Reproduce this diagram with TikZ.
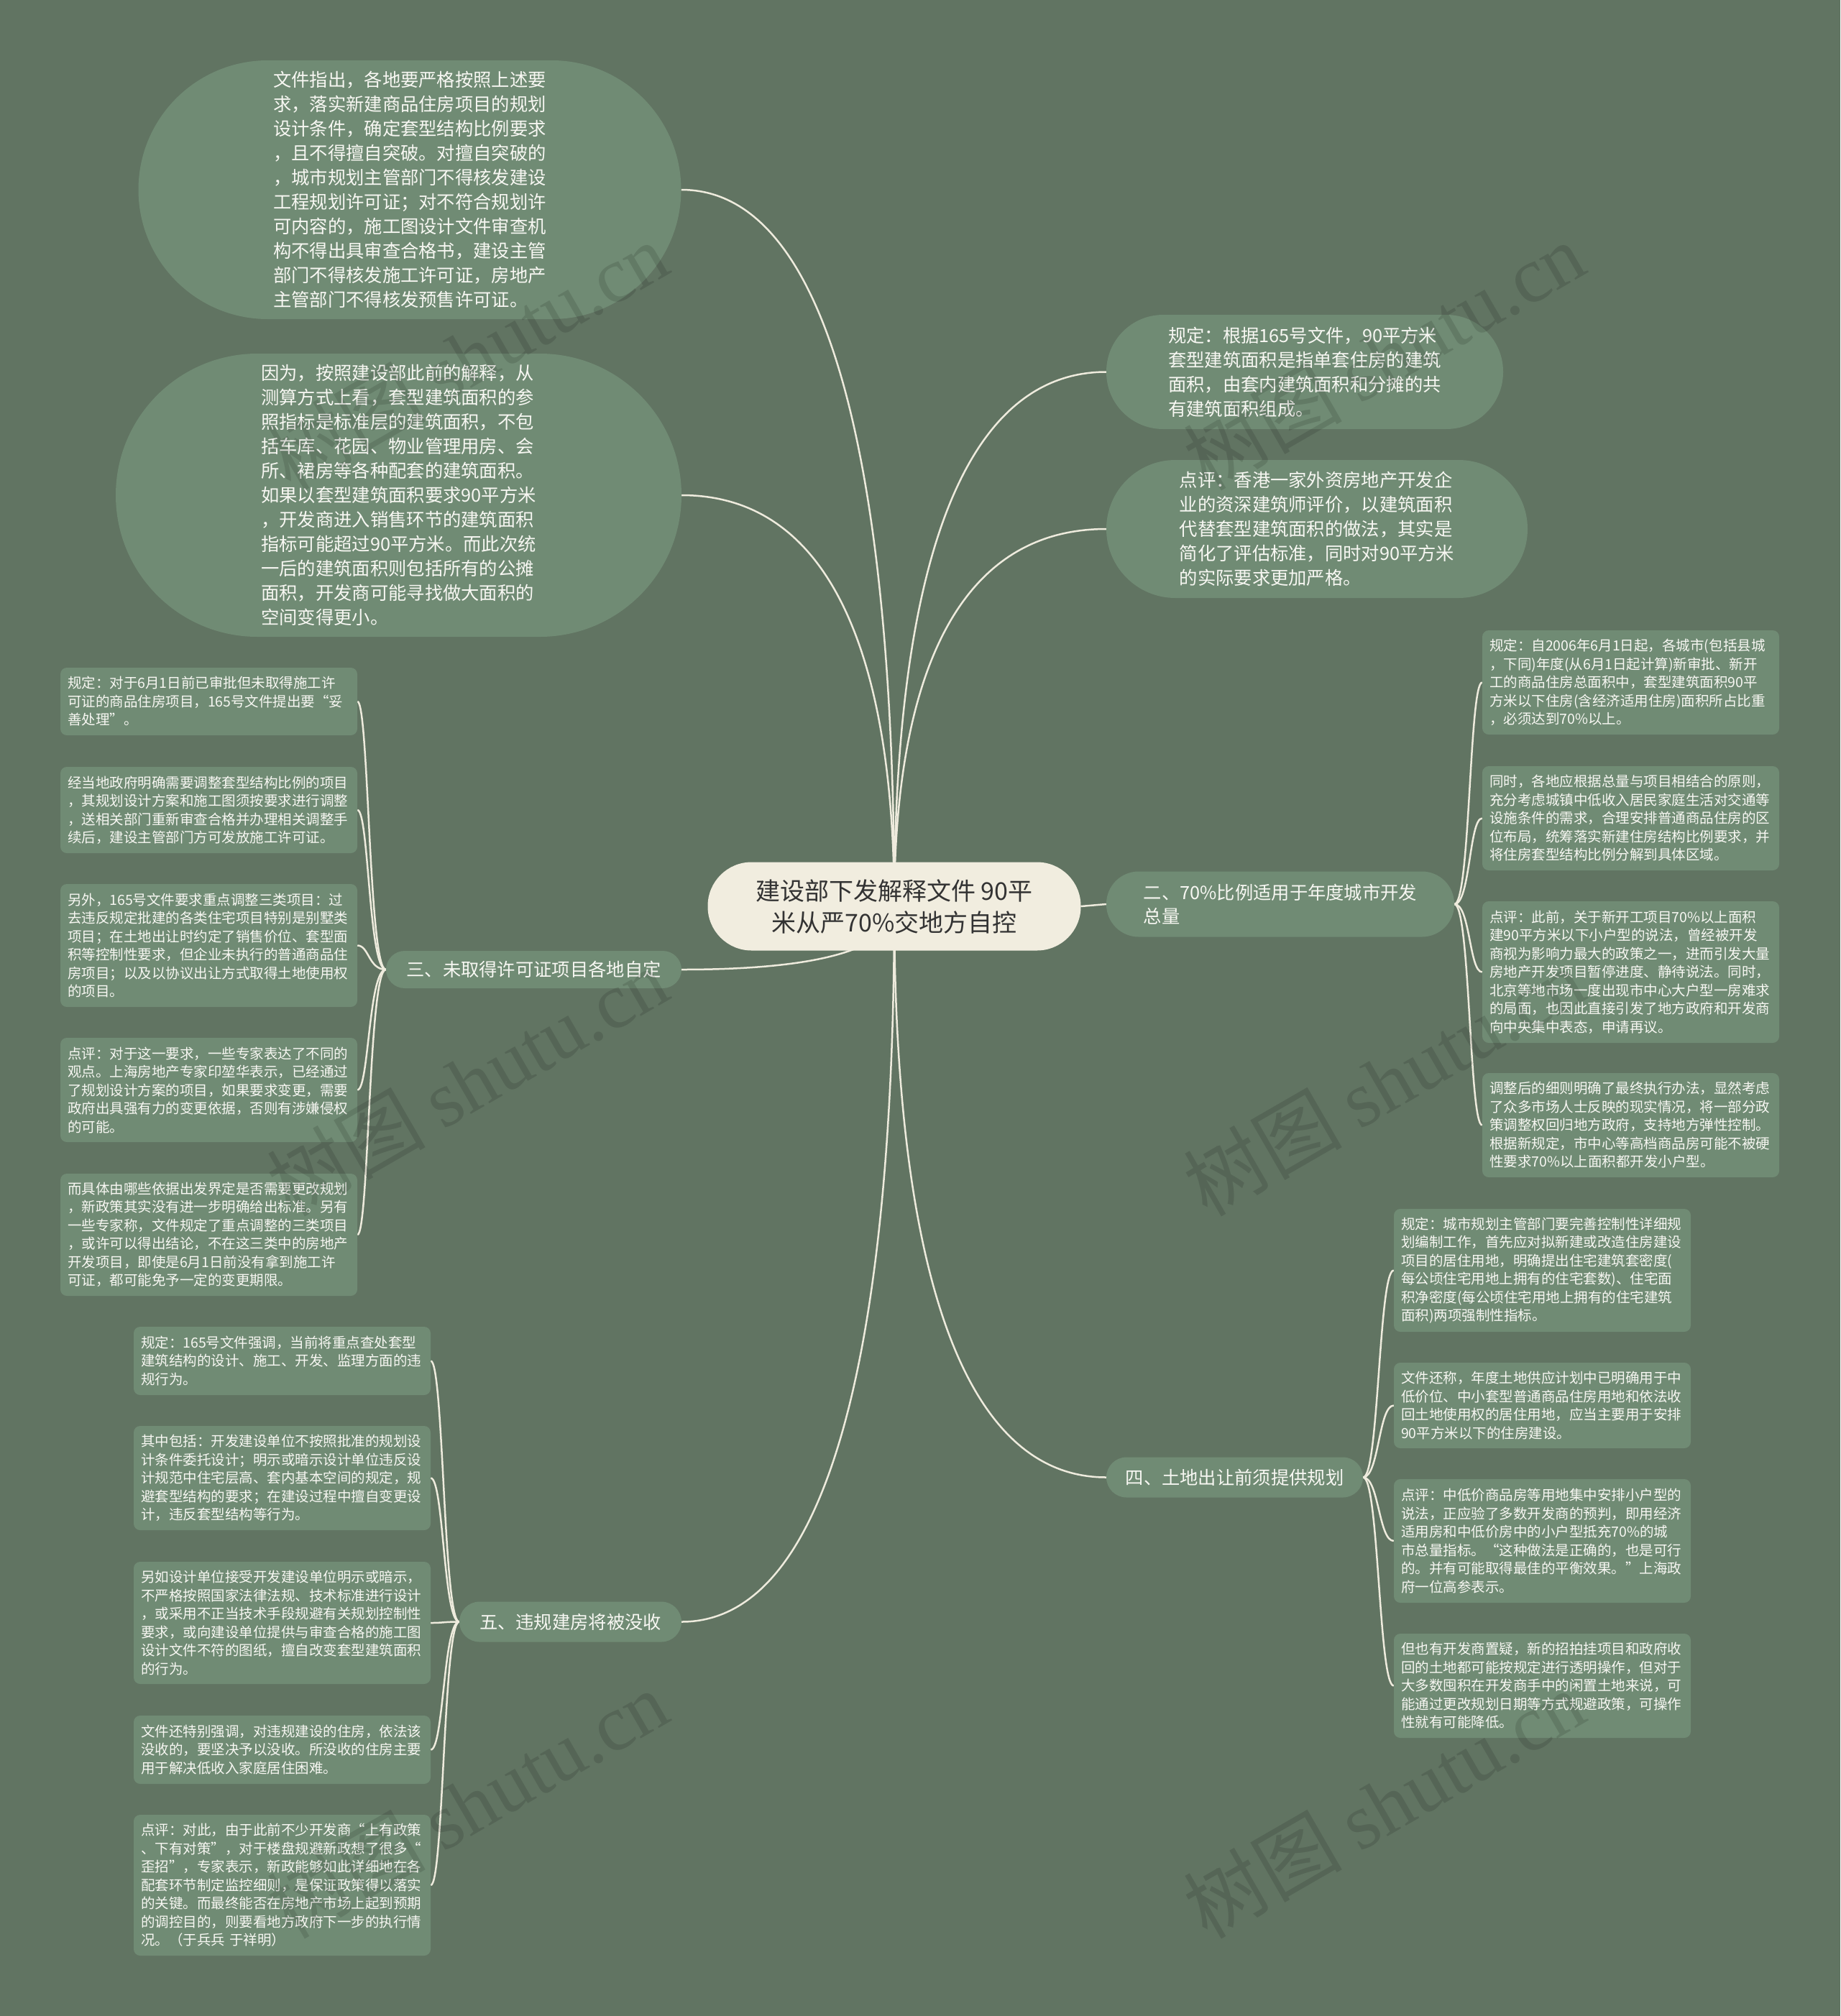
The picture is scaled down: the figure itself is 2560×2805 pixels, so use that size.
\documentclass[tikz,border=0pt]{standalone}
\usepackage{fontspec}
\setmainfont{Noto Sans CJK SC}
\newfontfamily\wmfont{Liberation Serif}
\pgfdeclarelayer{back}
\pgfdeclarelayer{lines}
\pgfsetlayers{back,lines,main}
\definecolor{bgc}{HTML}{617462}
\definecolor{ng}{HTML}{708B74}
\definecolor{cream}{HTML}{F1EDDF}
\definecolor{ln}{HTML}{EEEBDD}
\definecolor{tx}{HTML}{F7F7F2}
\definecolor{dark}{HTML}{333333}
\tikzset{
 leaf/.style={fill=ng, rounded corners=9pt, text=tx, font=\fontsize{19.5}{25.5}\selectfont, align=left, text width=393pt, inner xsep=10pt, inner ysep=0pt, minimum width=413pt},
 big/.style={fill=ng, text=tx, font=\fontsize{25.3}{34}\selectfont, align=left, inner sep=0pt},
 branch/.style={fill=ng, text=tx, font=\fontsize{25.3}{33}\selectfont, align=left, inner sep=0pt},
 rootbox/.style={fill=cream, text=dark, font=\fontsize{34}{44}\selectfont, align=center, inner sep=0pt},
 link/.style={draw=ln, line width=2.5pt},
 wm/.style={rotate=30, text=black, text opacity=0.12, font=\fontsize{110}{110}\selectfont}
}
\begin{document}
\begin{tikzpicture}[x=1pt,y=-1pt]
\useasboundingbox (0,0) rectangle (2560,2805);
\begin{pgfonlayer}{back}
\fill[bgc] (0,0) rectangle (2560,2805);
\end{pgfonlayer}

% root
\node[rootbox, minimum width=519pt, minimum height=123pt, rounded corners=61pt] (root) at (1244,1261) {建设部下发解释文件 90平\\米从严70\%交地方自控};

% big ovals
\node[big, minimum width=755pt, minimum height=360pt, rounded corners=180pt] (o1) at (570,264) {文件指出，各地要严格按照上述要\\求，落实新建商品住房项目的规划\\设计条件，确定套型结构比例要求\\，且不得擅自突破。对擅自突破的\\，城市规划主管部门不得核发建设\\工程规划许可证；对不符合规划许\\可内容的，施工图设计文件审查机\\构不得出具审查合格书，建设主管\\部门不得核发施工许可证，房地产\\主管部门不得核发预售许可证。};
\node[big, minimum width=787pt, minimum height=394pt, rounded corners=197pt] (o2) at (554.5,689) {因为，按照建设部此前的解释，从\\测算方式上看，套型建筑面积的参\\照指标是标准层的建筑面积，不包\\括车库、花园、物业管理用房、会\\所、裙房等各种配套的建筑面积。\\如果以套型建筑面积要求90平方米\\，开发商进入销售环节的建筑面积\\指标可能超过90平方米。而此次统\\一后的建筑面积则包括所有的公摊\\面积，开发商可能寻找做大面积的\\空间变得更小。};
\node[big, minimum width=552pt, minimum height=159pt, rounded corners=79pt] (r1) at (1815,517.5) {规定：根据165号文件，90平方米\\套型建筑面积是指单套住房的建筑\\面积，由套内建筑面积和分摊的共\\有建筑面积组成。};
\node[big, minimum width=586pt, minimum height=192pt, rounded corners=96pt] (r2) at (1832,736) {点评：香港一家外资房地产开发企\\业的资深建筑师评价，以建筑面积\\代替套型建筑面积的做法，其实是\\简化了评估标准，同时对90平方米\\的实际要求更加严格。};

% branches
\node[branch, minimum width=484pt, minimum height=91pt, rounded corners=45pt] (er) at (1781,1258) {二、70\%比例适用于年度城市开发\\总量};
\node[branch, minimum width=411pt, minimum height=52pt, rounded corners=26pt] (san) at (742.5,1349) {三、未取得许可证项目各地自定};
\node[branch, minimum width=357pt, minimum height=56pt, rounded corners=28pt] (si) at (1717.5,2055.5) {四、土地出让前须提供规划};
\node[branch, minimum width=309pt, minimum height=56pt, rounded corners=28pt] (wu) at (793.5,2256.5) {五、违规建房将被没收};

% leaves of 二
\node[leaf, minimum height=145pt] (e1) at (2268.5,949.5) {规定：自2006年6月1日起，各城市(包括县城\\，下同)年度(从6月1日起计算)新审批、新开\\工的商品住房总面积中，套型建筑面积90平\\方米以下住房(含经济适用住房)面积所占比重\\，必须达到70\%以上。};
\node[leaf, minimum height=145pt] (e2) at (2268.5,1138.5) {同时，各地应根据总量与项目相结合的原则，\\充分考虑城镇中低收入居民家庭生活对交通等\\设施条件的需求，合理安排普通商品住房的区\\位布局，统筹落实新建住房结构比例要求，并\\将住房套型结构比例分解到具体区域。};
\node[leaf, minimum height=197pt] (e3) at (2268.5,1352.5) {点评：此前，关于新开工项目70\%以上面积\\建90平方米以下小户型的说法，曾经被开发\\商视为影响力最大的政策之一，进而引发大量\\房地产开发项目暂停进度、静待说法。同时，\\北京等地市场一度出现市中心大户型一房难求\\的局面，也因此直接引发了地方政府和开发商\\向中央集中表态，申请再议。};
\node[leaf, minimum height=145pt] (e4) at (2268.5,1565.5) {调整后的细则明确了最终执行办法，显然考虑\\了众多市场人士反映的现实情况，将一部分政\\策调整权回归地方政府，支持地方弹性控制。\\根据新规定，市中心等高档商品房可能不被硬\\性要求70\%以上面积都开发小户型。};

% leaves of 三
\node[leaf, minimum height=94pt] (s1) at (290.5,976) {规定：对于6月1日前已审批但未取得施工许\\可证的商品住房项目，165号文件提出要“妥\\善处理”。};
\node[leaf, minimum height=120pt] (s2) at (290.5,1127) {经当地政府明确需要调整套型结构比例的项目\\，其规划设计方案和施工图须按要求进行调整\\，送相关部门重新审查合格并办理相关调整手\\续后，建设主管部门方可发放施工许可证。};
\node[leaf, minimum height=171pt] (s3) at (290.5,1315.5) {另外，165号文件要求重点调整三类项目：过\\去违反规定批建的各类住宅项目特别是别墅类\\项目；在土地出让时约定了销售价位、套型面\\积等控制性要求，但企业未执行的普通商品住\\房项目；以及以协议出让方式取得土地使用权\\的项目。};
\node[leaf, minimum height=145pt] (s4) at (290.5,1516.5) {点评：对于这一要求，一些专家表达了不同的\\观点。上海房地产专家印堃华表示，已经通过\\了规划设计方案的项目，如果要求变更，需要\\政府出具强有力的变更依据，否则有涉嫌侵权\\的可能。};
\node[leaf, minimum height=170pt] (s5) at (290.5,1718) {而具体由哪些依据出发界定是否需要更改规划\\，新政策其实没有进一步明确给出标准。另有\\一些专家称，文件规定了重点调整的三类项目\\，或许可以得出结论，不在这三类中的房地产\\开发项目，即使是6月1日前没有拿到施工许\\可证，都可能免予一定的变更期限。};

% leaves of 四
\node[leaf, minimum height=171pt] (f1) at (2145.5,1767.5) {规定：城市规划主管部门要完善控制性详细规\\划编制工作，首先应对拟新建或改造住房建设\\项目的居住用地，明确提出住宅建筑套密度(\\每公顷住宅用地上拥有的住宅套数)、住宅面\\积净密度(每公顷住宅用地上拥有的住宅建筑\\面积)两项强制性指标。};
\node[leaf, minimum height=119pt] (f2) at (2145.5,1955.5) {文件还称，年度土地供应计划中已明确用于中\\低价位、中小套型普通商品住房用地和依法收\\回土地使用权的居住用地，应当主要用于安排\\90平方米以下的住房建设。};
\node[leaf, minimum height=172pt] (f3) at (2145.5,2144) {点评：中低价商品房等用地集中安排小户型的\\说法，正应验了多数开发商的预判，即用经济\\适用房和中低价房中的小户型抵充70\%的城\\市总量指标。“这种做法是正确的，也是可行\\的。并有可能取得最佳的平衡效果。”上海政\\府一位高参表示。};
\node[leaf, minimum height=145pt] (f4) at (2145.5,2345.5) {但也有开发商置疑，新的招拍挂项目和政府收\\回的土地都可能按规定进行透明操作，但对于\\大多数囤积在开发商手中的闲置土地来说，可\\能通过更改规划日期等方式规避政策，可操作\\性就有可能降低。};

% leaves of 五
\node[leaf, minimum height=95pt] (w1) at (392.5,1893.5) {规定：165号文件强调，当前将重点查处套型\\建筑结构的设计、施工、开发、监理方面的违\\规行为。};
\node[leaf, minimum height=145pt] (w2) at (392.5,2056.5) {其中包括：开发建设单位不按照批准的规划设\\计条件委托设计；明示或暗示设计单位违反设\\计规范中住宅层高、套内基本空间的规定，规\\避套型结构的要求；在建设过程中擅自变更设\\计，违反套型结构等行为。};
\node[leaf, minimum height=170pt] (w3) at (392.5,2258) {另如设计单位接受开发建设单位明示或暗示，\\不严格按照国家法律法规、技术标准进行设计\\，或采用不正当技术手段规避有关规划控制性\\要求，或向建设单位提供与审查合格的施工图\\设计文件不符的图纸，擅自改变套型建筑面积\\的行为。};
\node[leaf, minimum height=95pt] (w4) at (392.5,2434.5) {文件还特别强调，对违规建设的住房，依法该\\没收的，要坚决予以没收。所没收的住房主要\\用于解决低收入家庭居住困难。};
\node[leaf, minimum height=196pt] (w5) at (392.5,2623) {点评：对此，由于此前不少开发商“上有政策\\、下有对策”，对于楼盘规避新政想了很多“\\歪招”，专家表示，新政能够如此详细地在各\\配套环节制定监控细则，是保证政策得以落实\\的关键。而最终能否在房地产市场上起到预期\\的调控目的，则要看地方政府下一步的执行情\\况。（于兵兵 于祥明）};

% connectors
\begin{pgfonlayer}{lines}
\draw[link] (o1.east) .. controls +(222,0) and +(0,-548) .. (root.center);
\draw[link] (o2.east) .. controls +(222,0) and +(0,-315) .. (root.center);
\draw[link] (r1.west) .. controls +(-222,0) and +(0,-409) .. (root.center);
\draw[link] (r2.west) .. controls +(-222,0) and +(0,-289) .. (root.center);
\draw[link] (si.west) .. controls +(-222,0) and +(0,437) .. (root.center);
\draw[link] (wu.east) .. controls +(222,0) and +(0,547) .. (root.center);
\draw[link] (san.east) .. controls +(222,0) and +(0,50) .. (root.center);
\draw[link] (root.east) -- (er.west);
\foreach \n in {e1,e2,e3,e4} \draw[link] (er.east) .. controls +(22,0) and +(-18,0) .. (\n.west);
\foreach \n in {s1,s2,s3,s4,s5} \draw[link] (san.west) .. controls +(-24,0) and +(16,0) .. (\n.east);
\foreach \n in {f1,f2,f3,f4} \draw[link] (si.east) .. controls +(22,0) and +(-21,0) .. (\n.west);
\foreach \n in {w1,w2,w3,w4,w5} \draw[link] (wu.west) .. controls +(-22,0) and +(18,0) .. (\n.east);
\end{pgfonlayer}

% watermarks
\node[wm] (wm1) at (650,495) {树图 {\wmfont shutu.cn}};
\node[wm] (wm2) at (1925,495) {树图 {\wmfont shutu.cn}};
\node[wm] (wm3) at (650,1505) {树图 {\wmfont shutu.cn}};
\node[wm] (wm4) at (1925,1505) {树图 {\wmfont shutu.cn}};
\node[wm] (wm5) at (650,2510) {树图 {\wmfont shutu.cn}};
\node[wm] (wm6) at (1925,2510) {树图 {\wmfont shutu.cn}};
\end{tikzpicture}
\end{document}
